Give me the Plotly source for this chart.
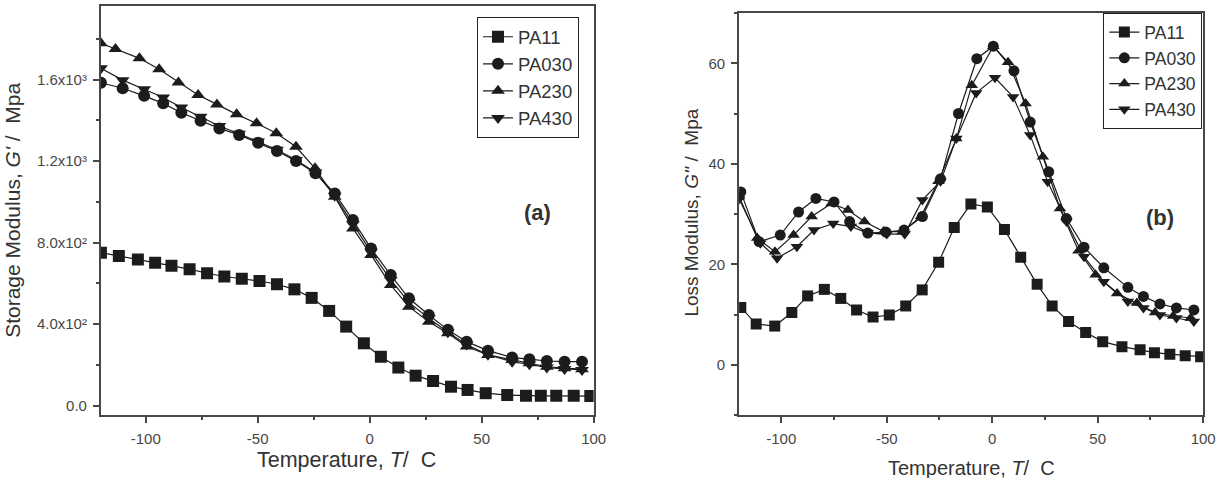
import plotly.graph_objects as go

# ---------------- data: (a) storage modulus ----------------
T_PA11_a = [-120, -112, -103.5, -95.8, -88.5, -80.4, -72.6, -64.9, -57.1, -49.2, -41.4, -33.6, -25.9,
            -18.1, -10.5, -2.6, 5, 12.8, 20.5, 28.3, 36.3, 43.7, 51.8, 61.4, 69.8, 76.4, 83.3, 91.1, 98.5]
G_PA11_a = [751, 735, 718, 702, 687, 670, 650, 634, 623, 612, 596, 571, 529,
            465, 388, 306, 240, 187, 147, 121, 93, 77, 61, 52, 48, 48, 48, 48, 47]

T_PA030_a = [-120, -110.3, -100.7, -92.2, -84.1, -75.5, -67.1, -58.3, -49.8, -41.4, -32.9, -24.2, -15.6,
             -7.5, 0.6, 9.4, 17.5, 26.4, 34.9, 43.3, 52.8, 63.6, 71.3, 79.1, 87, 94.8]
G_PA030_a = [1585, 1558, 1521, 1484, 1438, 1399, 1361, 1329, 1291, 1250, 1201, 1141, 1042,
             911, 772, 641, 527, 445, 372, 314, 270, 236, 228, 219, 216, 216]

T_PA230_a = [-120, -113.5, -102.8, -94, -85.4, -76.6, -68.2, -59.4, -50.5, -41.7, -32.9, -24.4, -15.6,
             -7.5, 0.6, 9.4, 17.5, 26.4, 34.9, 43.3, 52.8, 63.6, 71.3, 79.1, 87, 94.8]
G_PA230_a = [1779, 1751, 1705, 1651, 1587, 1525, 1479, 1430, 1386, 1337, 1271, 1165, 1026,
             870, 740, 592, 486, 412, 355, 290, 249, 224, 208, 191, 184, 179]

T_PA430_a = [-120, -110.3, -100.7, -92.2, -84.1, -75.5, -67.1, -58.3, -49.8, -41.4, -32.9, -24.2, -15.6,
             -7.5, 0.6, 9.4, 17.5, 26.4, 34.9, 43.3, 52.8, 63.6, 71.3, 79.1, 87, 94.8]
G_PA430_a = [1656, 1598, 1553, 1513, 1464, 1418, 1373, 1335, 1297, 1256, 1206, 1145, 1030,
             890, 755, 617, 507, 429, 360, 300, 250, 215, 203, 187, 180, 175]

# ---------------- data: (b) loss modulus ----------------
T_PA11_b = [-119.2, -111.9, -103.1, -95, -87.5, -79.6, -71.8, -64.3, -56.5, -48.8, -41, -33.2, -25.4,
            -18, -10.1, -2.3, 5.8, 13.5, 21.3, 28.4, 36.2, 44.3, 52.4, 61.5, 70.1, 76.9, 84.2, 91.5, 98.8]
G_PA11_b = [11.4, 8.1, 7.7, 10.4, 13.7, 15.0, 13.2, 10.9, 9.5, 9.9, 11.7, 14.9, 20.4,
            27.3, 32.0, 31.4, 26.9, 21.4, 16.0, 11.7, 8.6, 6.4, 4.6, 3.6, 3.0, 2.4, 2.1, 1.8, 1.6]

T_PA030_b = [-119.2, -110.5, -100.5, -91.8, -83.6, -75, -67.6, -59, -50.4, -41.8, -33.1, -24.5, -16,
             -7.3, 0.5, 10.3, 18, 26.8, 35.2, 43.5, 52.9, 64.3, 71.7, 79.5, 87.3, 95.6]
G_PA030_b = [34.4, 24.5, 25.8, 30.4, 33.1, 32.4, 28.5, 26.2, 26.4, 26.8, 29.5, 37, 50,
             60.9, 63.4, 58.5, 48.3, 38.4, 29.1, 23.4, 19.3, 15.4, 13.6, 12.1, 11.3, 10.9]

T_PA230_b = [-120, -111.4, -103, -94.2, -85.6, -76.2, -68.4, -60.6, -51.5, -42.5, -33.8, -25.5, -17,
             -9.7, 0.5, 7.5, 15.8, 24, 32.1, 40.9, 49, 59.2, 68.6, 77.2, 85.8, 94.1]
G_PA230_b = [33.5, 25.2, 22.5, 25.8, 29.5, 32.1, 30.8, 28.5, 26.5, 26.5, 29.5, 36.5, 45,
             55.6, 63.4, 60.2, 52, 41.4, 31.1, 22.7, 17.9, 14.2, 12.3, 10.4, 9.7, 9.3]

T_PA430_b = [-120, -109.9, -102, -92.6, -84.5, -75.4, -67, -59, -50, -41.5, -33.1, -24.5, -17,
             -7.6, 1.3, 9.9, 18, 26.3, 35.2, 43.5, 52.9, 64.3, 71.7, 79.5, 87.3, 95.6]
G_PA430_b = [33, 24.2, 21.2, 23.5, 26.8, 28.1, 27.5, 26.2, 26, 26, 32.8, 36.5, 45,
             54.1, 57.1, 53.3, 45.7, 36.4, 28.5, 21.5, 16.5, 12.6, 11.3, 9.9, 9.3, 8.6]

names = ["PA11", "PA030", "PA230", "PA430"]
symbols = ["square", "circle", "triangle-up", "triangle-down"]
a_series = [(T_PA11_a, G_PA11_a), (T_PA030_a, G_PA030_a), (T_PA230_a, G_PA230_a), (T_PA430_a, G_PA430_a)]
b_series = [(T_PA11_b, G_PA11_b), (T_PA030_b, G_PA030_b), (T_PA230_b, G_PA230_b), (T_PA430_b, G_PA430_b)]

yticks_a = [0, 400, 800, 1200, 1600]
yticktext_a = ["0.0", "4.0x10\u00b2", "8.0x10\u00b2", "1.2x10\u00b3", "1.6x10\u00b3"]
yticks_b = [0, 20, 40, 60]
xticks = [-100, -50, 0, 50, 100]
xticktext = ["-100", "-50", "0", "50", "100"]

INK = "#1c1c1c"
AX = "#474747"
FONT = "Liberation Sans, Arial, sans-serif"

fig = go.Figure()
for (t, g), n, s in zip(a_series, names, symbols):
    fig.add_trace(go.Scatter(x=t, y=g, name=n, mode="lines+markers",
                             line=dict(color=INK, width=1.2),
                             marker=dict(symbol=s, size=12, color=INK),
                             xaxis="x", yaxis="y", legend="legend"))
for (t, g), n, s in zip(b_series, names, symbols):
    fig.add_trace(go.Scatter(x=t, y=g, name=n, mode="lines+markers",
                             line=dict(color=INK, width=1.2),
                             marker=dict(symbol=s, size=11, color=INK),
                             xaxis="x2", yaxis="y2", legend="legend2"))

W, H = 1230, 478
def px(x): return x / W
def py(y): return (H - y) / H

common = dict(showline=True, linecolor=AX, linewidth=2, mirror=True, ticks="outside",
              ticklen=6, tickwidth=1.5, tickcolor=AX, showgrid=False, zeroline=False,
              tickfont=dict(family=FONT, size=15, color=AX), ticklabelstandoff=3)

fig.update_layout(
    width=W, height=H, margin=dict(l=0, r=0, t=0, b=0),
    paper_bgcolor="white", plot_bgcolor="white",
    font=dict(family=FONT, color=AX),
    xaxis=dict(domain=[px(102), px(600)], range=[-120, 100], anchor="y",
               tickvals=xticks, ticktext=xticktext,
               minor=dict(ticks="outside", ticklen=3, dtick=25, tick0=0, tickcolor=AX),
               **common),
    yaxis=dict(domain=[py(415), py(6)], range=[-46, 1962], anchor="x",
               tickvals=yticks_a, ticktext=yticktext_a,
               minor=dict(ticks="outside", ticklen=3, dtick=200, tick0=0, tickcolor=AX),
               **common),
    xaxis2=dict(domain=[px(747), px(1216)], range=[-120, 100], anchor="y2",
                tickvals=xticks, ticktext=xticktext,
                minor=dict(ticks="outside", ticklen=3, dtick=25, tick0=0, tickcolor=AX),
                **common),
    yaxis2=dict(domain=[py(415), py(13)], range=[-10, 70], anchor="x2",
                tickvals=yticks_b, minor=dict(ticks="outside", ticklen=3, dtick=10, tick0=0, tickcolor=AX),
                **common),
    legend=dict(x=px(585), y=py(17), xanchor="right", yanchor="top",
                bordercolor="#222", borderwidth=1.2, bgcolor="white",
                font=dict(family=FONT, size=18.5, color="#333"),
                tracegroupgap=0, itemwidth=30),
    legend2=dict(x=px(1215), y=py(13), xanchor="right", yanchor="top",
                 bordercolor="#222", borderwidth=1.2, bgcolor="white",
                 font=dict(family=FONT, size=17.5, color="#333"),
                 tracegroupgap=0, itemwidth=30),
    showlegend=True,
)

ann = [
    dict(text="Temperature, <i>T</i>/\u00a0\u00a0C", x=px(350), y=py(460), size=21.5),
    dict(text="Temperature, <i>T</i>/\u00a0\u00a0C", x=px(982), y=py(468), size=20),
    dict(text="Storage Modulus, <i>G'</i> /\u00a0\u00a0Mpa", x=px(12), y=py(210), size=21, angle=-90),
    dict(text="Loss Modulus, <i>G''</i> /\u00a0\u00a0Mpa", x=px(698), y=py(213), size=19, angle=-90),
    dict(text="<b>(a)</b>", x=px(543), y=py(212), size=22),
    dict(text="<b>(b)</b>", x=px(1172), y=py(217), size=22),
]
for a in ann:
    fig.add_annotation(text=a["text"], x=a["x"], y=a["y"], xref="paper", yref="paper",
                       xanchor="center", yanchor="middle", showarrow=False,
                       textangle=a.get("angle", 0),
                       font=dict(family=FONT, size=a["size"], color="#333"))

fig.write_html("out.html",
               post_script="document.body.style.margin='0';"
                           "document.documentElement.style.overflow='hidden';")
